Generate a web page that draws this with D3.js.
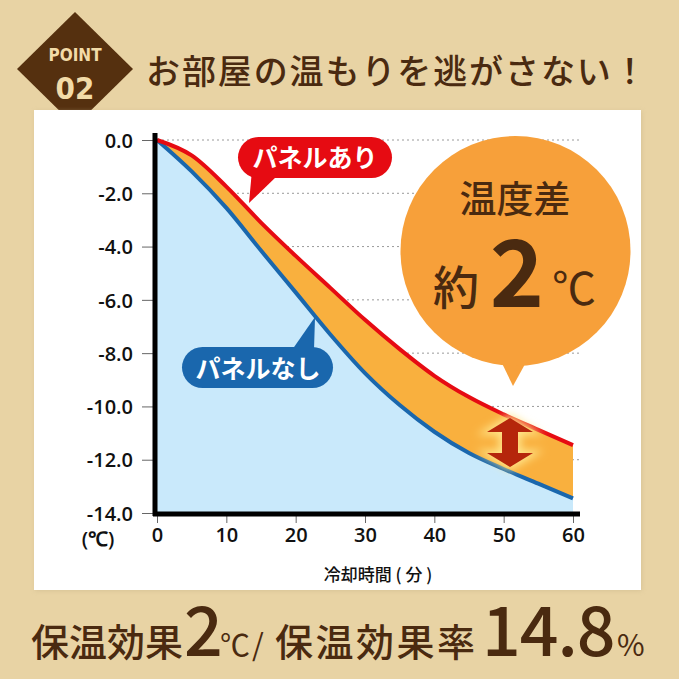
<!DOCTYPE html>
<html><head><meta charset="utf-8">
<script src="https://cdn.jsdelivr.net/npm/d3@7"></script>
<style>
html,body{margin:0;padding:0;background:#e8d3a4;}
svg{display:block;}
</style></head>
<body>
<script>
// ---- data ----
const times = [0, 5, 10, 15, 20, 25, 30, 35, 40, 45, 50, 55, 60];
const withPanel = [0, -0.58, -1.75, -3.1, -4.35, -5.55, -6.75, -7.85, -8.85, -9.65, -10.3, -10.88, -11.45];
const withoutPanel = [0, -1.18, -2.55, -4.15, -5.72, -7.3, -8.75, -9.95, -10.95, -11.75, -12.35, -12.9, -13.45];
const yTicks = [0, -2, -4, -6, -8, -10, -12, -14];
const yTickLabels = ["0.0", "-2.0", "-4.0", "-6.0", "-8.0", "-10.0", "-12.0", "-14.0"];
const xTicks = [0, 10, 20, 30, 40, 50, 60];
const xTickLabels = ["0", "10", "20", "30", "40", "50", "60"];
const title = "お部屋の温もりを逃がさない！";
const xTitle = "冷却時間 ( 分 )";
const yUnit = "(℃)";
const labelWith = "パネルあり";
const labelWithout = "パネルなし";

const W = 679, H = 679;
const brown = "#4a2a10";
const jp = "'Noto Sans CJK JP', sans-serif";
const svg = d3.select("body").append("svg").attr("width", W).attr("height", H);
const defs = svg.append("defs");
const glow = defs.append("filter").attr("id", "glow").attr("x", "-50%").attr("y", "-50%").attr("width", "200%").attr("height", "200%");
glow.append("feGaussianBlur").attr("stdDeviation", 4);
const shadow = defs.append("filter").attr("id", "shadow").attr("x", "-5%").attr("y", "-5%").attr("width", "110%").attr("height", "110%");
shadow.append("feGaussianBlur").attr("stdDeviation", 2);

svg.append("rect").attr("width", W).attr("height", H).attr("fill", "#e8d3a4");

// header diamond
const dg = svg.append("g").attr("transform", "translate(75,69)");
dg.append("path").attr("d", "M0,-57 L58,0 L0,57 L-58,0 Z").attr("fill", "#55300f");
dg.append("text").attr("y", -8).attr("text-anchor", "middle").attr("fill", "#f2dba8")
  .style("font-family", "'DejaVu Sans Condensed','DejaVu Sans',sans-serif").style("font-weight", "bold").style("font-size", "17px").text("POINT");
dg.append("text").attr("y", 30).attr("text-anchor", "middle").attr("fill", "#f2dba8")
  .style("font-family", "'DejaVu Sans Condensed','DejaVu Sans',sans-serif").style("font-weight", "bold").style("font-size", "31px").text("02");

svg.append("text").attr("x", 146).attr("y", 84).attr("fill", brown)
  .style("font-family", jp).style("font-weight", 500).style("font-size", "34px").style("letter-spacing", "1.9px").text(title);

// panel
svg.append("rect").attr("x", 35).attr("y", 111).attr("width", 607).attr("height", 480).attr("fill", "#c8b48a").attr("opacity", 0.5).attr("filter", "url(#shadow)");
svg.append("rect").attr("x", 34).attr("y", 110).attr("width", 607).attr("height", 480).attr("fill", "#ffffff");

// scales
const x = d3.scaleLinear().domain([0, 60]).range([157, 573]);
const y = d3.scaleLinear().domain([0, -14]).range([140, 513]);
const pts = times.map((t, i) => ({t, a: withPanel[i], b: withoutPanel[i]}));

// gridlines
svg.append("g").selectAll("line").data(yTicks.filter(d => d !== -14)).join("line")
  .attr("x1", x(0)).attr("x2", 582).attr("y1", d => y(d)).attr("y2", d => y(d))
  .attr("stroke", "#9a9a9a").attr("stroke-width", 1).attr("stroke-dasharray", "2,3");

// areas
const curve = d3.curveMonotoneX;
svg.append("path").datum(pts)
  .attr("d", d3.area().curve(curve).x(d => x(d.t)).y0(y(-14)).y1(d => y(d.b)))
  .attr("fill", "#c9e9fb");
svg.append("path").datum(pts)
  .attr("d", d3.area().curve(curve).x(d => x(d.t)).y0(d => y(d.b)).y1(d => y(d.a)))
  .attr("fill", "#f9b03e");
svg.append("path").datum(pts)
  .attr("d", d3.line().curve(curve).x(d => x(d.t)).y(d => y(d.b)))
  .attr("fill", "none").attr("stroke", "#1a67ad").attr("stroke-width", 4);
svg.append("path").datum(pts)
  .attr("d", d3.line().curve(curve).x(d => x(d.t)).y(d => y(d.a)))
  .attr("fill", "none").attr("stroke", "#e60b12").attr("stroke-width", 4);

// axes
const yAxis = d3.axisLeft(y).tickValues(yTicks).tickFormat((d, i) => yTickLabels[i]).tickSize(13).tickPadding(9);
const gy = svg.append("g").attr("transform", "translate(155,0)").call(yAxis);
gy.select(".domain").remove();
gy.selectAll(".tick line").attr("stroke", "#666");
gy.selectAll(".tick text").attr("fill", "#111").style("font-family", "'Open Sans',sans-serif").style("font-weight", 600).style("font-size", "20px").attr("dy", "0.36em");

const xAxis = d3.axisBottom(x).tickValues(xTicks).tickFormat((d, i) => xTickLabels[i]).tickSize(9).tickPadding(5);
const gx = svg.append("g").attr("transform", "translate(0,514)").call(xAxis);
gx.select(".domain").remove();
gx.selectAll(".tick line").attr("stroke", "#666");
gx.selectAll(".tick text").attr("fill", "#111").style("font-family", "'Open Sans',sans-serif").style("font-weight", 600).style("font-size", "20px");

svg.append("line").attr("x1", 155).attr("x2", 155).attr("y1", 133).attr("y2", 516).attr("stroke", "#000").attr("stroke-width", 5);
svg.append("line").attr("x1", 153).attr("x2", 580).attr("y1", 514).attr("y2", 514).attr("stroke", "#000").attr("stroke-width", 5);

svg.append("text").attr("x", 98).attr("y", 546).attr("text-anchor", "middle").attr("fill", "#111")
  .style("font-family", "'Open Sans',sans-serif").style("font-weight", 600).style("font-size", "20px").text(yUnit);
svg.append("text").attr("x", 378).attr("y", 581).attr("text-anchor", "middle").attr("fill", "#111")
  .style("font-family", jp).style("font-weight", 500).style("font-size", "17px").text(xTitle);

// red callout
svg.append("path").attr("d", "M252,170 L277,176 L249,203 Z").attr("fill", "#e60b12");
svg.append("rect").attr("x", 238).attr("y", 137).attr("width", 154).attr("height", 41).attr("rx", 20.5).attr("fill", "#e60b12");
svg.append("text").attr("x", 315).attr("y", 167).attr("text-anchor", "middle").attr("fill", "#fff")
  .style("font-family", jp).style("font-weight", "bold").style("font-size", "25px").text(labelWith);

// blue callout
svg.append("path").attr("d", "M292,350 L314,350 L315,317 Z").attr("fill", "#1a67ad");
svg.append("rect").attr("x", 182).attr("y", 347).attr("width", 151).attr("height", 41).attr("rx", 20.5).attr("fill", "#1a67ad");
svg.append("text").attr("x", 258).attr("y", 378).attr("text-anchor", "middle").attr("fill", "#fff")
  .style("font-family", jp).style("font-weight", "bold").style("font-size", "25px").text(labelWithout);

// orange bubble
svg.append("path").attr("d", "M498,355 L530,355 L513,386 Z").attr("fill", "#f7a03a");
svg.append("circle").attr("cx", 515.5).attr("cy", 251).attr("r", 115).attr("fill", "#f7a03a");
svg.append("text").attr("x", 515).attr("y", 213).attr("text-anchor", "middle").attr("fill", brown)
  .style("font-family", jp).style("font-weight", 500).style("font-size", "37px").text("温度差");
svg.append("text").attr("x", 456).attr("y", 304).attr("text-anchor", "middle").attr("fill", brown)
  .style("font-family", jp).style("font-weight", 500).style("font-size", "46px").text("約");
svg.append("text").attr("x", 517).attr("y", 307).attr("text-anchor", "middle").attr("fill", brown)
  .style("font-family", jp).style("font-weight", "bold").style("font-size", "92px").text("2");
svg.append("text").attr("x", 574).attr("y", 305).attr("text-anchor", "middle").attr("fill", brown)
  .style("font-family", jp).style("font-size", "44px").text("℃");

// double arrow with glow
const ax = 510, aTop = 418, aBot = 467;
const arrowD = `M${ax},${aTop} L${ax+23},${aTop+14} L${ax+8},${aTop+14} L${ax+8},${aBot-14} L${ax+23},${aBot-14} L${ax},${aBot} L${ax-23},${aBot-14} L${ax-8},${aBot-14} L${ax-8},${aTop+14} L${ax-23},${aTop+14} Z`;
svg.append("path").attr("d", arrowD).attr("fill", "#ffe58a").attr("stroke", "#ffe58a").attr("stroke-width", 6).attr("filter", "url(#glow)");
svg.append("path").attr("d", arrowD).attr("fill", "#b5260b");

// bottom line
const bt = svg.append("g").attr("fill", brown);
const by = 656;
bt.append("text").attr("x", 31).attr("y", by).style("font-family", jp).style("font-weight", 500).style("font-size", "38px").text("保温効果");
bt.append("text").attr("x", 184).attr("y", by).style("font-family", jp).style("font-weight", 500).style("font-size", "68px").text("2");
bt.append("text").attr("x", 220).attr("y", by).style("font-family", jp).style("font-size", "30px").text("℃");
bt.append("text").attr("x", 252).attr("y", by).style("font-family", jp).style("font-size", "30px").text("/");
bt.append("text").attr("x", 275).attr("y", by).style("font-family", jp).style("font-weight", 500).style("font-size", "38px").style("letter-spacing", "2.5px").text("保温効果率");
bt.append("text").attr("x", 482).attr("y", by).style("font-family", jp).style("font-weight", 500).style("font-size", "68px").style("letter-spacing", "-1px").text("14.8");
bt.append("text").attr("x", 617).attr("y", by).style("font-family", jp).style("font-size", "30px").text("%");
</script>
</body></html>
